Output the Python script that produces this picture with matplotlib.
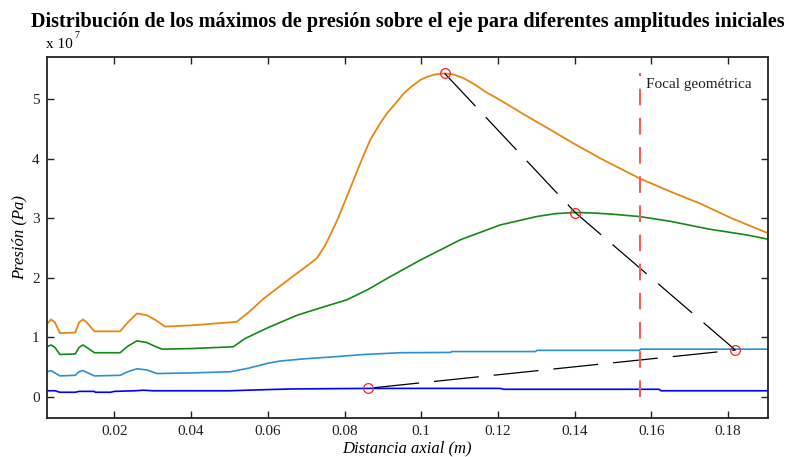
import matplotlib
matplotlib.use("Agg")
import matplotlib.pyplot as plt

plt.rcParams['font.family'] = ['Liberation Serif', 'DejaVu Serif']

# Data (pressure in units of 1e7 Pa)
orange_x = [0.0024, 0.0035, 0.0045, 0.0058, 0.0098, 0.0108, 0.0118, 0.0128, 0.0148, 0.0215,
            0.0235, 0.0259, 0.0285, 0.0310, 0.0332, 0.0400, 0.0519, 0.0550, 0.0589, 0.0650,
            0.0706, 0.0728, 0.0750, 0.0781, 0.0824, 0.0845, 0.0867, 0.0890, 0.0911, 0.0935,
            0.0954, 0.0975, 0.0998, 0.1015, 0.1035, 0.1061, 0.1085, 0.1110, 0.1140, 0.1170,
            0.1206, 0.1270, 0.1337, 0.1400, 0.1467, 0.1570, 0.1650, 0.1727, 0.1810, 0.1904]
orange_y = [1.22, 1.30, 1.25, 1.07, 1.08, 1.25, 1.30, 1.25, 1.10, 1.10,
            1.25, 1.40, 1.37, 1.28, 1.18, 1.20, 1.26, 1.42, 1.65, 1.95,
            2.22, 2.33, 2.55, 2.97, 3.65, 3.99, 4.32, 4.57, 4.77, 4.95,
            5.10, 5.22, 5.33, 5.38, 5.42, 5.44, 5.42, 5.36, 5.25, 5.12,
            4.99, 4.74, 4.49, 4.25, 4.01, 3.67, 3.45, 3.25, 3.00, 2.75]

green_x = [0.0024, 0.0035, 0.0045, 0.0058, 0.0098, 0.0108, 0.0118, 0.0128, 0.0148, 0.0215,
           0.0235, 0.0259, 0.0285, 0.0305, 0.0324, 0.0400, 0.0510, 0.0541, 0.0600, 0.0676,
           0.0740, 0.0806, 0.0860, 0.0911, 0.0998, 0.1102, 0.1206, 0.1300, 0.1350, 0.1402,
           0.1450, 0.1500, 0.1570, 0.1650, 0.1750, 0.1850, 0.1904]
green_y = [0.84, 0.87, 0.83, 0.71, 0.72, 0.83, 0.87, 0.83, 0.74, 0.74,
           0.85, 0.94, 0.91, 0.85, 0.80, 0.81, 0.84, 0.98, 1.16, 1.37,
           1.50, 1.63, 1.80, 1.99, 2.30, 2.64, 2.89, 3.03, 3.08, 3.10,
           3.09, 3.07, 3.03, 2.95, 2.82, 2.72, 2.65]

lblue_x = [0.0024, 0.0035, 0.0045, 0.0058, 0.0098, 0.0108, 0.0118, 0.0128, 0.0148, 0.0215,
           0.0235, 0.0259, 0.0285, 0.0311, 0.0400, 0.0502, 0.0550, 0.0598, 0.0632, 0.0700,
           0.0770, 0.0850, 0.0946, 0.1076, 0.1080, 0.1298, 0.1302, 0.1568, 0.1572, 0.1904]
lblue_y = [0.42, 0.44, 0.40, 0.35, 0.36, 0.42, 0.44, 0.41, 0.35, 0.36,
           0.42, 0.47, 0.45, 0.39, 0.40, 0.42, 0.48, 0.56, 0.60, 0.64,
           0.67, 0.71, 0.74, 0.745, 0.76, 0.76, 0.78, 0.78, 0.80, 0.80]

blue_x = [0.0024, 0.0045, 0.0058, 0.0098, 0.0108, 0.0148, 0.0150, 0.0190, 0.0200, 0.0255,
          0.0275, 0.0300, 0.0500, 0.0600, 0.0660, 0.0860, 0.1206, 0.1215, 0.1620, 0.1625,
          0.1904]
blue_y = [0.10, 0.10, 0.075, 0.075, 0.09, 0.09, 0.075, 0.075, 0.09, 0.10,
          0.11, 0.10, 0.10, 0.12, 0.13, 0.14, 0.14, 0.125, 0.125, 0.10,
          0.10]

peak_x = [0.1061, 0.1402, 0.1819, 0.0861]
peak_y = [5.44, 3.095, 0.785, 0.141]

focal_x = 0.157
focal_label = "Focal geométrica"

fig = plt.figure(figsize=(7.89, 4.57), dpi=100)
ax = fig.add_axes([46.7 / 789, 1 - 417.7 / 457, (768 - 46.7) / 789, (417.7 - 56.7) / 457])

ax.plot(orange_x, orange_y, color='#e8870e', lw=1.3)
ax.plot(green_x, green_y, color='#138a13', lw=1.2)
ax.plot(lblue_x, lblue_y, color='#2a8fd4', lw=1.2)
ax.plot(blue_x, blue_y, color='#0000ff', lw=1.2)

ax.plot(peak_x, peak_y, color='black', lw=0.9, dashes=(36, 12))
ax.plot(peak_x, peak_y, linestyle='none', marker='o', ms=7, mfc='none', mec='#ff2020', mew=0.9)

ax.plot([focal_x, focal_x], [0, 5.44], color='#ff5a5a', lw=1.5, dashes=(8, 6))
ax.text(0.1585, 5.26, focal_label, fontsize=11, va='center', ha='left', color='#222222')

ax.set_xlim(0.00236, 0.1904)
ax.set_ylim(-0.353, 5.72)
ax.set_xticks([0.02, 0.04, 0.06, 0.08, 0.1, 0.12, 0.14, 0.16, 0.18])
ax.set_xticklabels(['0.02', '0.04', '0.06', '0.08', '0.1', '0.12', '0.14', '0.16', '0.18'])
ax.set_yticks([0, 1, 2, 3, 4, 5])
ax.tick_params(direction='in', length=5, width=1, top=True, right=True, labelsize=11,
               colors='#222222', pad=5)
for s in ax.spines.values():
    s.set_linewidth(1.3)
    s.set_color('#222222')

ax.set_xlabel('Distancia axial (m)', fontsize=12, style='italic', labelpad=2)
ax.set_ylabel('Presión (Pa)', fontsize=12, style='italic', labelpad=3)

fig.text(46 / 789, 1 - 45 / 457, 'x 10', fontsize=11, ha='left', va='center')
fig.text(74 / 789, 1 - 36 / 457, '7', fontsize=7, ha='left', va='center')

fig.text(408 / 789, 1 - 26.5 / 457,
         'Distribución de los máximos de presión sobre el eje para diferentes amplitudes iniciales',
         fontsize=14.6, fontweight='bold', ha='center', va='baseline')

fig.savefig('out.png', dpi=100)
